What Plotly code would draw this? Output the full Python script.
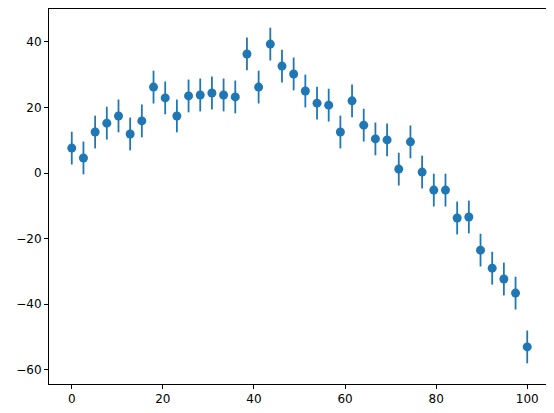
import numpy as np
import plotly.graph_objects as go

x = list(np.linspace(0, 100, 40))
y = [7.6, 4.6, 12.5, 15.2, 17.4, 11.9, 15.9, 26.2, 22.9, 17.4,
     23.5, 23.8, 24.4, 23.8, 23.2, 36.3, 26.2, 39.3, 32.6, 30.2,
     25.0, 21.3, 20.7, 12.5, 22.0, 14.6, 10.4, 10.1, 1.2, 9.5,
     0.3, -5.2, -5.2, -13.7, -13.4, -23.5, -29.0, -32.3, -36.6, -53.0]
yerr = [5] * 40

fig = go.Figure(go.Scatter(
    x=x, y=y, mode="markers",
    marker=dict(color="#1f77b4", size=9),
    error_y=dict(type="data", array=yerr, color="#1f77b4", thickness=1.8, width=0),
))
axis = dict(showgrid=False, zeroline=False, showline=True, linecolor="black", linewidth=1,
            mirror=True, ticks="outside", ticklen=4, tickcolor="black",
            tickfont=dict(family="DejaVu Sans", size=12, color="black"))
fig.update_xaxes(range=[-5, 105], tickvals=[0, 20, 40, 60, 80, 100], **axis)
fig.update_yaxes(range=[-64.3, 50], tickvals=[-60, -40, -20, 0, 20, 40], **axis)
fig.update_layout(width=554, height=413, margin=dict(l=41, r=12, t=1, b=37),
                  plot_bgcolor="white", paper_bgcolor="white", showlegend=False)
fig.write_html("out.html")
